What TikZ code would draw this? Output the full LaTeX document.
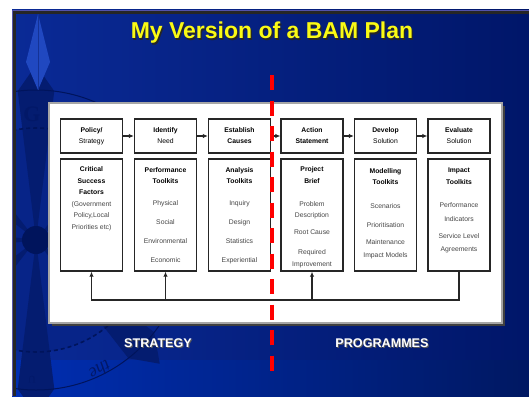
\documentclass[tikz,border=0pt]{standalone}
\usepackage{fontspec}
\setmainfont{Liberation Sans}
\newfontfamily\markfont{Liberation Serif}
\usetikzlibrary{arrows.meta,calc}

\definecolor{bgleft}{RGB}{10,42,150}
\definecolor{bgmid}{RGB}{0,40,168}
\definecolor{bgright}{RGB}{0,22,105}
\definecolor{bandleft}{RGB}{0,46,178}
\definecolor{bandright}{RGB}{0,24,98}
\definecolor{raycol}{RGB}{4,28,112}
\definecolor{disccol}{RGB}{7,36,136}
\definecolor{ringcol}{RGB}{0,20,92}
\definecolor{needle}{RGB}{32,72,192}
\definecolor{needleline}{RGB}{20,50,150}
\definecolor{marktext}{RGB}{2,24,104}
\definecolor{titleyellow}{RGB}{250,250,20}
\definecolor{itemgray}{RGB}{70,70,70}

\tikzset{
  stepbox/.style={draw=black!85, line width=1.4pt, fill=white,
    minimum width=62pt, inner sep=0pt, align=center,
    font=\fontsize{6.8}{11}\selectfont},
  headbox/.style={stepbox, minimum height=34pt},
  toolbox/.style={stepbox, minimum height=112pt},
  boxtext/.style={anchor=north, inner sep=0pt, align=center, text=itemgray,
    font=\fontsize{6.8}{11.5}\selectfont},
  flow/.style={draw=black!85, line width=1.2pt,
    -{Latex[length=5pt,width=4.5pt]}},
  divider/.style={draw=red, line width=3.5pt, dash pattern=on 15pt off 10.5pt},
  sidelabel/.style={inner sep=0pt, font=\fontsize{12.6}{13}\selectfont\bfseries},
  marklabel/.style={text=marktext, inner sep=0pt},
}

\begin{document}
\begin{tikzpicture}[x=1pt,y=-1pt]
\useasboundingbox (0,0) rectangle (529,396);
\fill[white] (0,0) rectangle (529,396);

% slide background
\shade[left color=bgleft, middle color=bgmid, right color=bgright]
  (12,10) rectangle (529,396);
\shade[left color=bandleft, right color=bandright] (12,360) rectangle (529,396);

% compass watermark on the left, kept inside the slide
\begin{scope}
\clip (12,10) rectangle (529,396);
\coordinate (hub) at (36,240);
\fill[disccol] (hub) circle[radius=112];
\foreach \a in {0,45,...,315}{
  \fill[raycol] (hub) -- ($(hub)+(\a-7:150)$) -- ($(hub)+(\a:175)$)
    -- ($(hub)+(\a+7:150)$) -- cycle;
}
\fill[ringcol] (hub) circle[radius=14];
\draw[ringcol, line width=1.6pt, dash pattern=on 4pt off 3pt]
  (hub) circle[radius=112];
\draw[ringcol, line width=1pt] (hub) circle[radius=150];
\fill[needle] (38,14) -- (50,62) -- (38,90) -- (26,62) -- cycle;
\draw[needleline, line width=0.8pt] (38,14) -- (38,90);
\node[marklabel, font=\markfont\fontsize{22}{22}\bfseries] (markG) at (32,114) {G};
\node[marklabel, font=\markfont\fontsize{18}{18}\itshape, rotate=-150]
  (markThe) at (100,370) {the};
\node[marklabel, font=\markfont\fontsize{22}{22}, rotate=180] (markU) at (32,380) {U};
\end{scope}

% slide frame
\draw[blue!35!gray, line width=0.8pt] (12.4,396) -- (12.4,10.4) -- (529,10.4);
\draw[black!85, line width=2.4pt] (14.6,396) -- (14.6,12.6) -- (529,12.6);

% title
\node[text=black!85, font=\fontsize{23}{23}\selectfont\bfseries]
  (titleshade) at (273.2,34.2) {My Version of a BAM Plan};
\node[text=titleyellow, font=\fontsize{23}{23}\selectfont\bfseries]
  (title) at (272,33) {My Version of a BAM Plan};

% white panel
\fill[black!75] (51.5,105.5) rectangle (504.5,325.5);
\fill[white, draw=gray!70, line width=1.2pt] (49,103) rectangle (502,323);

% process steps
\node[headbox] (p1) at (91.5,136) {\textbf{Policy/}\\Strategy};
\node[headbox] (p2) at (165.5,136) {\textbf{Identify}\\Need};
\node[headbox] (p3) at (239.5,136) {\textbf{Establish}\\\textbf{Causes}};
\node[headbox] (p4) at (312,136) {\textbf{Action}\\\textbf{Statement}};
\node[headbox] (p5) at (385.5,136) {\textbf{Develop}\\Solution};
\node[headbox] (p6) at (459,136) {\textbf{Evaluate}\\Solution};

\draw[flow] (p1.east) -- (p2.west);
\draw[flow] (p2.east) -- (p3.west);
\draw[flow] (p3.east) -- (p4.west);
\draw[flow] (p4.east) -- (p5.west);
\draw[flow] (p5.east) -- (p6.west);

% toolkit boxes
\node[toolbox] (q1) at (91.5,215) {};
\node[toolbox] (q2) at (165.5,215) {};
\node[toolbox] (q3) at (239.5,215) {};
\node[toolbox] (q4) at (312,215) {};
\node[toolbox] (q5) at (385.5,215) {};
\node[toolbox] (q6) at (459,215) {};

\node[boxtext] (t1) at (91.5,166.5)
  {\textcolor{black}{\textbf{Critical}}\\\textcolor{black}{\textbf{Success}}\\
   \textcolor{black}{\textbf{Factors}}\\(Government\\Policy,Local\\Priorities etc)};
\node[boxtext] (t2) at (165.5,167)
  {\textcolor{black}{\textbf{Performance}}\\\textcolor{black}{\textbf{Toolkits}}\\[10.5pt]
   Physical\\[7.5pt]Social\\[7.5pt]Environmental\\[7.5pt]Economic};
\node[boxtext] (t3) at (239.5,167)
  {\textcolor{black}{\textbf{Analysis}}\\\textcolor{black}{\textbf{Toolkits}}\\[10.5pt]
   Inquiry\\[7.5pt]Design\\[7.5pt]Statistics\\[7.5pt]Experiential};
\node[boxtext] (t4) at (312,166.5)
  {\textcolor{black}{\textbf{Project}}\\\textcolor{black}{\textbf{Brief}}\\[11.5pt]
   Problem\\Description\\[5.5pt]Root Cause\\[8.5pt]Required\\Improvement};
\node[boxtext] (t5) at (385.5,168)
  {\textcolor{black}{\textbf{Modelling}}\\\textcolor{black}{\textbf{Toolkits}}\\[12.5pt]
   Scenarios\\[7.5pt]Prioritisation\\[5.5pt]Maintenance\\[1.5pt]Impact Models};
\node[boxtext] (t6) at (459,168)
  {\textcolor{black}{\textbf{Impact}}\\\textcolor{black}{\textbf{Toolkits}}\\[11.5pt]
   Performance\\[2.5pt]Indicators\\[5.5pt]Service Level\\[1.5pt]Agreements};

% feedback bus
\coordinate (bus) at (0,300);
\draw[flow] (q6.south) |- (q1.south |- bus) -- (q1.south);
\draw[flow] (q2.south |- bus) -- (q2.south);
\draw[flow] (q4.south |- bus) -- (q4.south);

% strategy / programmes divider
\coordinate (divTop) at (272,75);
\coordinate (divBot) at (272,371);
\draw[divider] (divTop) -- (divBot);

% side labels
\node[sidelabel, text=gray!70!black] (stratshade) at (159,343.8) {STRATEGY};
\node[sidelabel, text=white] (strategy) at (158,343) {STRATEGY};
\node[sidelabel, text=gray!70!black] (progshade) at (383,343.8) {PROGRAMMES};
\node[sidelabel, text=white] (programmes) at (382,343) {PROGRAMMES};
\end{tikzpicture}
\end{document}
